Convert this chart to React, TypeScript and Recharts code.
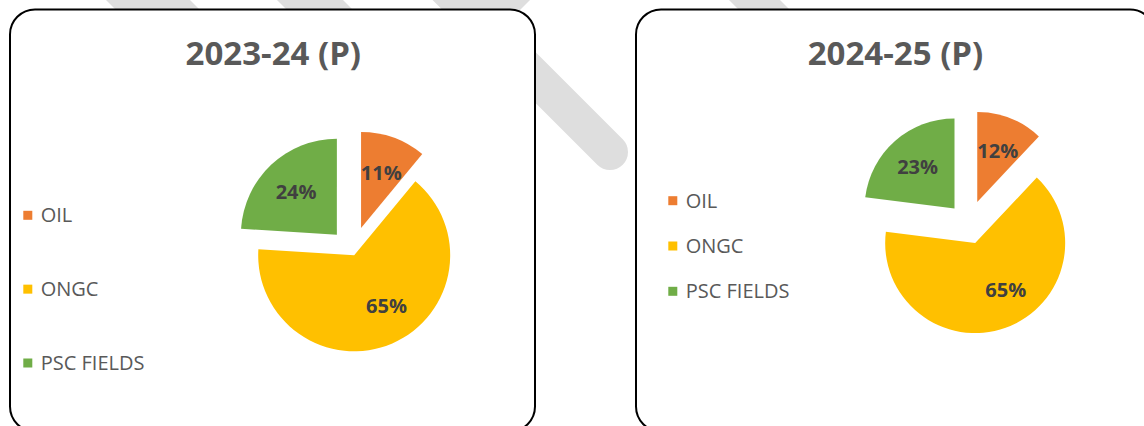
import React from 'react';
import { PieChart, Pie, Cell, Legend, Tooltip, Sector } from 'recharts';

// ---- data ----
const categories = ['OIL', 'ONGC', 'PSC FIELDS'];
const share2023 = [11, 65, 24];
const share2024 = [12, 65, 23];
const titles = ['2023-24 (P)', '2024-25 (P)'];

// ---- styling ----
const colors = ['#ED7D31', '#FFC000', '#70AD47'];
const explode2023 = [25, 4, 23];
const explode2024 = [24, 20, 21];
const labelTurn2023 = [0, 9.5, 0];
const labelTurn2024 = [0, 13.5, 0];
const FONT = "'Open Sans', 'DejaVu Sans', sans-serif";
const RAD = Math.PI / 180;

const data2023 = categories.map((name, i) => ({ name, value: share2023[i] }));
const data2024 = categories.map((name, i) => ({ name, value: share2024[i] }));

const idxOf = (p: any) => {
  const n = p?.name ?? p?.payload?.name;
  return categories.indexOf(n);
};

const makeShape = (explode: number[]) => (p: any) => {
  const d = explode[idxOf(p)] ?? 0;
  const a = -p.midAngle * RAD;
  return (
    <Sector
      cx={p.cx + d * Math.cos(a)}
      cy={p.cy + d * Math.sin(a)}
      innerRadius={p.innerRadius}
      outerRadius={p.outerRadius}
      startAngle={p.startAngle}
      endAngle={p.endAngle}
      fill={p.fill}
      stroke="none"
    />
  );
};

const makeLabel = (explode: number[], turn: number[]) => (p: any) => {
  const i = idxOf(p);
  const d = explode[i] ?? 0;
  const a = -p.midAngle * RAD;
  const vx = p.cx + d * Math.cos(a);
  const vy = p.cy + d * Math.sin(a);
  const la = -(p.midAngle + (turn[i] ?? 0)) * RAD;
  const dist = p.outerRadius * 0.62;
  return (
    <text
      x={vx + dist * Math.cos(la)}
      y={vy + dist * Math.sin(la)}
      textAnchor="middle"
      dominantBaseline="central"
      fill="#404040"
      fontSize={20}
      fontWeight={700}
      fontFamily={FONT}
    >
      {`${p.value}%`}
    </text>
  );
};

const makeLegend = (sqX: number, txtX: number, y0: number, step: number) => (props: any) => {
  const payload = props.payload || [];
  return (
    <svg width={260} height={426} style={{ overflow: 'visible' }}>
      {payload.map((e: any, i: number) => {
        const y = y0 + i * step;
        return (
          <g key={i}>
            <rect x={sqX} y={y - 11.5} width={9} height={9} fill={e.color || colors[i]} />
            <text x={txtX} y={y} fontSize={20} fill="#595959" fontFamily={FONT}>
              {e.value}
            </text>
          </g>
        );
      })}
    </svg>
  );
};

function OnePie(props: {
  data: any[];
  explode: number[];
  turn: number[];
  cx: number;
  cy: number;
  r: number;
  legend: [number, number, number, number];
}) {
  const shape = makeShape(props.explode);
  const [sx, tx, y0, step] = props.legend;
  return (
    <PieChart width={572} height={426} margin={{ top: 0, right: 0, bottom: 0, left: 0 }}>
      <Pie
        data={props.data}
        dataKey="value"
        nameKey="name"
        cx={props.cx}
        cy={props.cy}
        outerRadius={props.r}
        startAngle={90}
        endAngle={-270}
        stroke="none"
        isAnimationActive={false}
        labelLine={false}
        label={makeLabel(props.explode, props.turn)}
        shape={shape}
        activeShape={shape}
        inactiveShape={shape}
      >
        {props.data.map((_, i) => (
          <Cell key={i} fill={colors[i]} />
        ))}
      </Pie>
      <Tooltip defaultIndex={0} content={() => null} isAnimationActive={false} />
      <Legend
        layout="vertical"
        align="center"
        verticalAlign="middle"
        wrapperStyle={{ left: 0, top: 0, width: 260, height: 426 }}
        content={makeLegend(sx, tx, y0, step)}
      />
    </PieChart>
  );
}

export default function App() {
  return (
    <div
      style={{
        position: 'absolute',
        left: 0,
        top: 0,
        width: 1144,
        height: 426,
        overflow: 'hidden',
        background: '#ffffff',
        fontFamily: FONT,
      }}
    >
      <svg width={1144} height={426} style={{ position: 'absolute', left: 0, top: 0 }}>
        {/* watermark */}
        <g fill="#dedede" stroke="none">
          <polygon points="106,0 190,0 202,12 118,12" />
          <polygon points="277,0 343,0 355,12 289,12" />
          <polygon points="470,0 530,0 518,12 470,12" />
          <polygon points="729,0 780,0 792,12 741,12" />
        </g>
        <line x1={300} y1={-158} x2={610} y2={152} stroke="#dedede" strokeWidth={36} strokeLinecap="round" />
        {/* panels */}
        <rect x={10} y={9.5} width={525} height={422} rx={25} fill="#ffffff" stroke="#000000" strokeWidth={2} />
        <rect x={636} y={9.5} width={519} height={422} rx={25} fill="#ffffff" stroke="#000000" strokeWidth={2} />
        <text x={273.3} y={65} textAnchor="middle" fontSize={33} fontWeight={700} fill="#595959" fontFamily={FONT}>
          {titles[0]}
        </text>
        <text x={895.5} y={65} textAnchor="middle" fontSize={33} fontWeight={700} fill="#595959" fontFamily={FONT}>
          {titles[1]}
        </text>
      </svg>
      <div style={{ position: 'absolute', left: 0, top: 0 }}>
        <OnePie data={data2023} explode={explode2023} turn={labelTurn2023} cx={352.6} cy={251.6} r={96} legend={[23.3, 40.7, 222.3, 73.85]} />
      </div>
      <div style={{ position: 'absolute', left: 572, top: 0 }}>
        <OnePie data={data2024} explode={explode2024} turn={labelTurn2024} cx={396.4} cy={224.3} r={90} legend={[96.3, 113.7, 207.7, 45.3]} />
      </div>
    </div>
  );
}
